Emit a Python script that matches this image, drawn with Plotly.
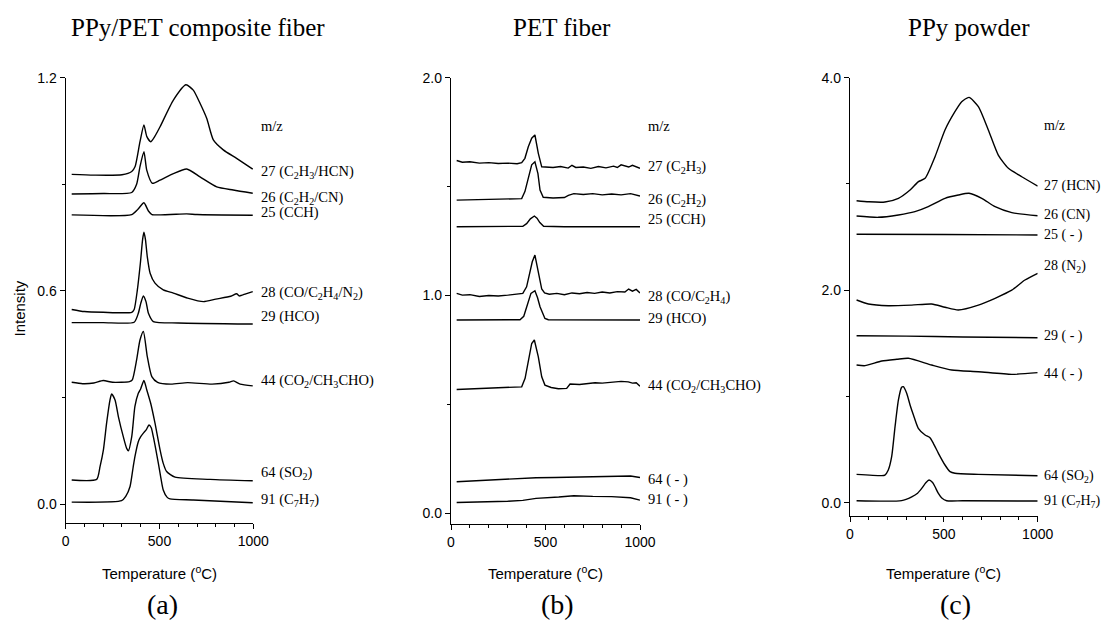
import plotly.graph_objects as go

# ---------------- data ----------------
# Panel (a): PPy/PET composite fiber
a27_T = [32, 150, 300, 352, 370, 396, 417, 432, 453, 475, 503, 574, 641, 680, 716, 752, 787, 840, 911, 997]
a27_I = [0.928, 0.926, 0.927, 0.936, 0.950, 1.020, 1.067, 1.035, 1.020, 1.035, 1.062, 1.137, 1.180, 1.165, 1.128, 1.085, 1.025, 0.997, 0.973, 0.943]
a26_T = [32, 200, 352, 378, 396, 417, 432, 462, 503, 574, 645, 716, 805, 893, 997]
a26_I = [0.873, 0.874, 0.877, 0.900, 0.950, 0.992, 0.940, 0.903, 0.912, 0.930, 0.943, 0.921, 0.893, 0.884, 0.875]
a25_T = [32, 352, 385, 417, 441, 460, 645, 700, 997]
a25_I = [0.814, 0.815, 0.830, 0.848, 0.825, 0.815, 0.817, 0.815, 0.813]
a28_T = [32, 100, 200, 352, 365, 382, 398, 410, 417, 425, 435, 450, 476, 520, 574, 650, 734, 800, 880, 911, 925, 960, 997]
a28_I = [0.548, 0.542, 0.540, 0.540, 0.548, 0.603, 0.678, 0.745, 0.765, 0.745, 0.696, 0.650, 0.622, 0.603, 0.594, 0.580, 0.570, 0.577, 0.585, 0.592, 0.586, 0.592, 0.598]
a29_T = [32, 200, 365, 387, 400, 414, 428, 441, 467, 600, 997]
a29_I = [0.511, 0.511, 0.512, 0.537, 0.565, 0.586, 0.570, 0.537, 0.514, 0.510, 0.507]
a44_T = [32, 90, 150, 200, 250, 340, 355, 378, 396, 414, 435, 459, 490, 560, 650, 780, 870, 895, 930, 997]
a44_I = [0.343, 0.339, 0.341, 0.348, 0.343, 0.345, 0.350, 0.406, 0.462, 0.486, 0.415, 0.359, 0.343, 0.338, 0.342, 0.338, 0.343, 0.347, 0.338, 0.333]
a64_T = [32, 165, 183, 201, 218, 236, 245, 263, 281, 307, 325, 334, 352, 369, 387, 400, 417, 432, 453, 476, 503, 520, 538, 583, 769, 997]
a64_I = [0.068, 0.070, 0.106, 0.153, 0.228, 0.293, 0.310, 0.293, 0.246, 0.190, 0.157, 0.150, 0.190, 0.275, 0.312, 0.325, 0.348, 0.322, 0.284, 0.228, 0.153, 0.115, 0.092, 0.076, 0.070, 0.066]
a91_T = [32, 298, 320, 343, 360, 369, 387, 400, 414, 430, 444, 456, 467, 480, 494, 507, 520, 540, 556, 680, 997]
a91_I = [0.006, 0.010, 0.022, 0.050, 0.106, 0.134, 0.176, 0.190, 0.200, 0.210, 0.223, 0.215, 0.190, 0.155, 0.115, 0.075, 0.040, 0.020, 0.015, 0.012, 0.004]

# Panel (b): PET fiber
b27_T = [30, 60, 100, 150, 200, 250, 300, 350, 374, 391, 409, 427, 444, 462, 480, 500, 540, 580, 620, 640, 660, 700, 740, 780, 820, 860, 880, 900, 940, 960, 1000]
b27_I = [1.620, 1.612, 1.614, 1.608, 1.610, 1.606, 1.608, 1.605, 1.610, 1.630, 1.683, 1.722, 1.737, 1.653, 1.591, 1.590, 1.588, 1.592, 1.585, 1.598, 1.588, 1.590, 1.584, 1.592, 1.586, 1.594, 1.588, 1.600, 1.590, 1.598, 1.584]
b26_T = [30, 100, 200, 300, 374, 391, 409, 427, 444, 460, 471, 488, 540, 600, 621, 650, 700, 750, 800, 850, 900, 950, 1000]
b26_I = [1.438, 1.439, 1.440, 1.441, 1.445, 1.477, 1.546, 1.600, 1.614, 1.560, 1.484, 1.451, 1.448, 1.450, 1.460, 1.468, 1.464, 1.468, 1.462, 1.466, 1.462, 1.468, 1.457]
b25_T = [30, 200, 380, 400, 420, 441, 455, 470, 490, 600, 800, 1000]
b25_I = [1.316, 1.316, 1.318, 1.330, 1.352, 1.365, 1.355, 1.335, 1.318, 1.316, 1.317, 1.316]
b28_T = [30, 60, 100, 150, 200, 250, 300, 350, 380, 400, 418, 430, 444, 462, 480, 495, 520, 560, 600, 640, 680, 720, 760, 800, 840, 880, 920, 940, 960, 980, 1000]
b28_I = [1.010, 1.002, 1.004, 0.996, 1.000, 0.998, 1.002, 1.006, 1.010, 1.040, 1.117, 1.155, 1.186, 1.102, 1.030, 1.012, 1.006, 1.010, 1.004, 1.012, 1.008, 1.014, 1.010, 1.016, 1.012, 1.018, 1.016, 1.030, 1.020, 1.028, 1.012]
b29_T = [30, 200, 365, 385, 400, 423, 444, 458, 471, 485, 497, 515, 700, 1000]
b29_I = [0.888, 0.888, 0.889, 0.905, 0.949, 1.010, 1.022, 0.990, 0.949, 0.915, 0.895, 0.889, 0.888, 0.888]
b44_T = [30, 100, 200, 300, 374, 392, 409, 427, 441, 462, 480, 497, 530, 568, 612, 630, 680, 720, 762, 800, 850, 900, 938, 960, 980, 1000]
b44_I = [0.569, 0.571, 0.575, 0.578, 0.581, 0.620, 0.704, 0.780, 0.796, 0.719, 0.627, 0.589, 0.578, 0.572, 0.574, 0.594, 0.592, 0.596, 0.600, 0.598, 0.602, 0.606, 0.604, 0.598, 0.600, 0.584]
b64_T = [30, 100, 200, 270, 350, 450, 550, 650, 750, 850, 950, 1000]
b64_I = [0.145, 0.148, 0.152, 0.156, 0.160, 0.164, 0.165, 0.166, 0.170, 0.170, 0.172, 0.165]
b91_T = [30, 100, 200, 300, 380, 450, 570, 650, 750, 850, 950, 1000]
b91_I = [0.050, 0.051, 0.053, 0.056, 0.060, 0.069, 0.075, 0.081, 0.078, 0.077, 0.072, 0.061]

# Panel (c): PPy powder
c27_T = [35, 100, 186, 258, 320, 363, 400, 453, 506, 559, 595, 634, 684, 737, 790, 844, 915, 1000]
c27_I = [2.842, 2.832, 2.830, 2.865, 2.943, 3.020, 3.053, 3.257, 3.508, 3.680, 3.774, 3.815, 3.727, 3.508, 3.272, 3.147, 3.068, 2.980]
c26_T = [35, 151, 258, 346, 417, 506, 577, 634, 702, 773, 862, 1000]
c26_I = [2.698, 2.686, 2.708, 2.739, 2.786, 2.865, 2.896, 2.912, 2.865, 2.786, 2.730, 2.701]
c25_T = [35, 500, 1000]
c25_I = [2.526, 2.524, 2.520]
c28_T = [35, 98, 204, 329, 435, 506, 577, 684, 773, 862, 932, 1000]
c28_I = [1.908, 1.870, 1.854, 1.860, 1.870, 1.840, 1.814, 1.860, 1.924, 2.000, 2.096, 2.159]
c29_T = [35, 300, 600, 1000]
c29_I = [1.572, 1.568, 1.560, 1.553]
c44_T = [35, 80, 169, 250, 311, 435, 542, 684, 862, 1000]
c44_I = [1.296, 1.290, 1.334, 1.350, 1.359, 1.296, 1.249, 1.233, 1.208, 1.224]
c64_T = [35, 169, 186, 204, 222, 240, 258, 275, 284, 302, 320, 338, 364, 400, 426, 444, 471, 506, 533, 559, 684, 1000]
c64_I = [0.267, 0.255, 0.260, 0.308, 0.433, 0.716, 0.967, 1.086, 1.092, 1.030, 0.920, 0.825, 0.700, 0.637, 0.612, 0.559, 0.465, 0.355, 0.292, 0.277, 0.267, 0.254]
c91_T = [35, 275, 329, 360, 382, 405, 421, 440, 453, 470, 489, 515, 600, 1000]
c91_I = [0.019, 0.020, 0.056, 0.090, 0.135, 0.190, 0.214, 0.190, 0.150, 0.090, 0.045, 0.019, 0.018, 0.016]

# curve labels
a_labels = ["27 (C<sub>2</sub>H<sub>3</sub>/HCN)", "26 (C<sub>2</sub>H<sub>2</sub>/CN)", "25 (CCH)",
            "28 (CO/C<sub>2</sub>H<sub>4</sub>/N<sub>2</sub>)", "29 (HCO)", "44 (CO<sub>2</sub>/CH<sub>3</sub>CHO)",
            "64 (SO<sub>2</sub>)", "91 (C<sub>7</sub>H<sub>7</sub>)"]
b_labels = ["27 (C<sub>2</sub>H<sub>3</sub>)", "26 (C<sub>2</sub>H<sub>2</sub>)", "25 (CCH)",
            "28 (CO/C<sub>2</sub>H<sub>4</sub>)", "29 (HCO)", "44 (CO<sub>2</sub>/CH<sub>3</sub>CHO)",
            "64 ( - )", "91 ( - )"]
c_labels = ["27 (HCN)", "26 (CN)", "25 ( - )", "28 (N<sub>2</sub>)", "29 ( - )", "44 ( - )",
            "64 (SO<sub>2</sub>)", "91 (C<sub>7</sub>H<sub>7</sub>)"]
panel_titles = ["PPy/PET composite fiber", "PET fiber", "PPy powder"]
panel_tags = ["(a)", "(b)", "(c)"]

# label anchor heights (layout positions, in each panel's intensity units)
a_label_y = [0.936, 0.862, 0.820, 0.594, 0.527, 0.347, 0.088, 0.012]
b_label_y = [1.591, 1.438, 1.347, 0.994, 0.895, 0.584, 0.156, 0.064]
c_label_y = [2.981, 2.706, 2.520, 2.221, 1.569, 1.211, 0.245, 0.009]
mz_y = [1.064, 1.779, 3.548]

# ---------------- figure ----------------
PAGE_PAD = 8            # the html page's body margin
W, H = 1110 - PAGE_PAD, 625 - PAGE_PAD
SANS = "Liberation Sans, Arial, sans-serif"
SERIF = "Liberation Serif, Times New Roman, serif"

panels = [
    ("x", "y", [(a27_T, a27_I), (a26_T, a26_I), (a25_T, a25_I), (a28_T, a28_I),
                (a29_T, a29_I), (a44_T, a44_I), (a64_T, a64_I), (a91_T, a91_I)], "spline"),
    ("x2", "y2", [(b27_T, b27_I), (b26_T, b26_I), (b25_T, b25_I), (b28_T, b28_I),
                  (b29_T, b29_I), (b44_T, b44_I), (b64_T, b64_I), (b91_T, b91_I)], "linear"),
    ("x3", "y3", [(c27_T, c27_I), (c26_T, c26_I), (c25_T, c25_I), (c28_T, c28_I),
                  (c29_T, c29_I), (c44_T, c44_I), (c64_T, c64_I), (c91_T, c91_I)], "spline"),
]

fig = go.Figure()
for xa, ya, curves, shape in panels:
    for T, I in curves:
        line = dict(color="black", width=1.4, shape=shape)
        if shape == "spline":
            line["smoothing"] = 0.6
        fig.add_trace(go.Scatter(x=T, y=I, mode="lines", line=line, xaxis=xa, yaxis=ya,
                                 showlegend=False, hoverinfo="skip"))

def px_x(p):
    return (p - PAGE_PAD) / W

def px_y(p):
    return 1 - (p - PAGE_PAD) / H

xdoms = [(65.7, 253.3), (451, 640), (850, 1037.7)]
ybottoms = [522.7, 524.3, 516]
ytop = 77.7
yranges = [(-0.052, 1.2), (-0.05, 2.0), (-0.125, 4.0)]
ydticks = [0.6, 1.0, 2.0]
label_font = [14.5, 14.5, 14]
label_gap = [7, 7, 5]

axis_common = dict(showline=True, linecolor="black", linewidth=1.3, showgrid=False, zeroline=False,
                   ticks="outside", ticklen=5, tickwidth=1.2, tickcolor="black", automargin=False,
                   tickfont=dict(family=SANS, size=14, color="black"))

for i in range(3):
    sfx = "" if i == 0 else str(i + 1)
    fig.layout["xaxis" + sfx] = dict(
        domain=[px_x(xdoms[i][0]), px_x(xdoms[i][1])], range=[0, 1000],
        anchor="y" + sfx, tick0=0, dtick=500,
        minor=dict(ticks="outside", ticklen=3, dtick=100, tick0=0, tickcolor="black", showgrid=False),
        **axis_common)
    fig.layout["yaxis" + sfx] = dict(
        domain=[px_y(ybottoms[i]), px_y(ytop)], range=list(yranges[i]),
        anchor="x" + sfx, tick0=0, dtick=ydticks[i], tickformat=".1f",
        minor=dict(ticks="outside", ticklen=3, dtick=ydticks[i] / 2, tick0=0, tickcolor="black", showgrid=False),
        **axis_common)

annotations = []
label_sets = [(a_labels, a_label_y), (b_labels, b_label_y), (c_labels, c_label_y)]
for i in range(3):
    sfx = "" if i == 0 else str(i + 1)
    labels, ly = label_sets[i]
    for txt, yv in zip(labels + ["m/z"], ly + [mz_y[i]]):
        annotations.append(dict(text=txt, x=1000, y=yv, xref="x" + sfx, yref="y" + sfx,
                                xanchor="left", yanchor="middle", xshift=label_gap[i], borderpad=0,
                                showarrow=False,
                                font=dict(family=SERIF, size=label_font[i], color="black")))
    cx = (xdoms[i][0] + xdoms[i][1]) / 2
    annotations.append(dict(text="Temperature (<sup>o</sup>C)", x=px_x(cx), y=px_y(572), xref="paper", yref="paper",
                            xanchor="center", yanchor="middle", showarrow=False,
                            font=dict(family=SANS, size=15, color="black")))
    annotations.append(dict(text=panel_tags[i], x=px_x([162, 557, 955][i]), y=px_y(604), xref="paper", yref="paper",
                            xanchor="center", yanchor="middle", showarrow=False,
                            font=dict(family=SERIF, size=28, color="black")))
    annotations.append(dict(text=panel_titles[i], x=px_x([197.5, 562, 969][i]), y=px_y(27), xref="paper", yref="paper",
                            xanchor="center", yanchor="middle", showarrow=False,
                            font=dict(family=SERIF, size=25, color="black")))

annotations.append(dict(text="Intensity", x=px_x(18.5), y=px_y(309), xref="paper", yref="paper",
                        xanchor="center", yanchor="middle", showarrow=False, textangle=-90,
                        font=dict(family=SANS, size=15, color="black")))

fig.update_layout(width=W, height=H, margin=dict(l=0, r=0, t=0, b=0, autoexpand=False),
                  paper_bgcolor="white", plot_bgcolor="white", annotations=annotations,
                  showlegend=False)

fig.write_html("out.html")
